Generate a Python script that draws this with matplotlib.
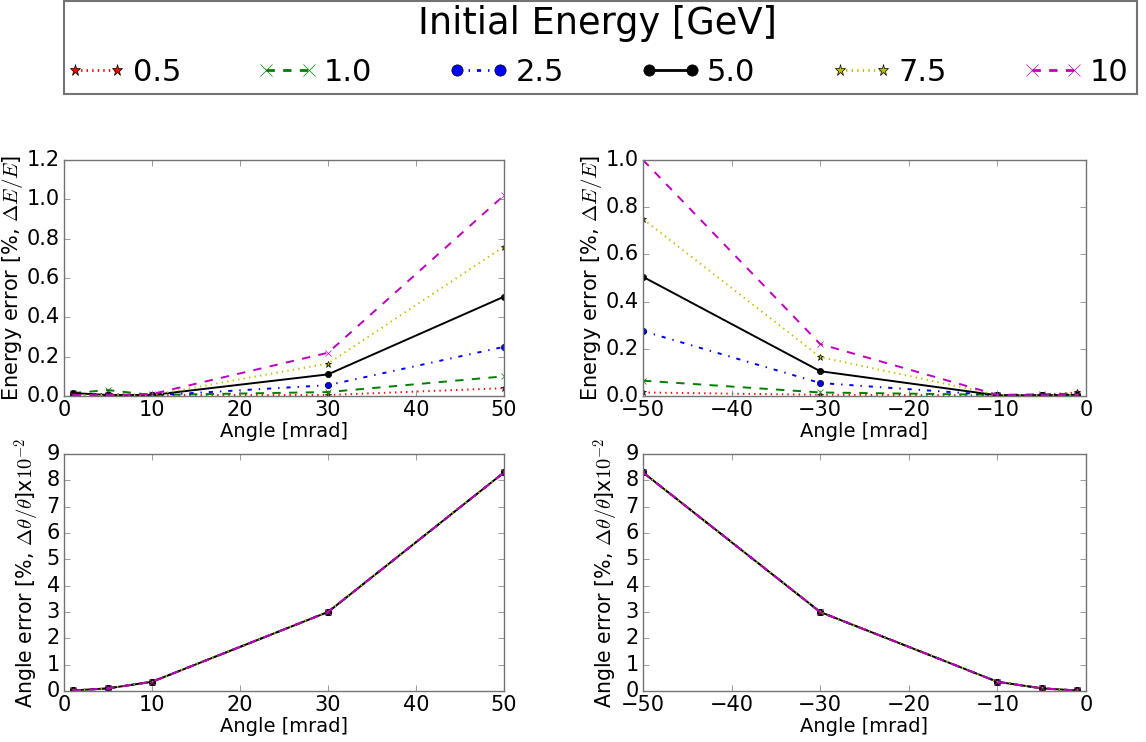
import matplotlib
matplotlib.use("Agg")
import matplotlib.pyplot as plt
from matplotlib.patches import Rectangle
from matplotlib.ticker import FormatStrFormatter

plt.style.use("classic")
plt.rcParams.update({
    "figure.facecolor": "white",
    "savefig.facecolor": "white",
    "font.family": ["DejaVu Sans"],
    "mathtext.fontset": "cm",
    "axes.edgecolor": "0.45",
    "xtick.color": "0.45",
    "ytick.color": "0.45",
    "xtick.labelcolor": "black",
    "ytick.labelcolor": "black",
})

# Beam energies and plotting styles
energies = ["0.5", "1.0", "2.5", "5.0", "7.5", "10"]
fmt_styles = ["r*:", "gx--", "bo-.", "ko-", "y*:", "mx--"]

# Angles (mrad)
angles_pos = [1, 5, 10, 30, 50]
angles_neg = [-50, -30, -10, -5, -1]

# Energy error [%] for positive angles, one list per energy
energy_err_pos = {
    "0.5": [0.010, 0.010, 0.005, 0.005, 0.040],
    "1.0": [0.015, 0.030, 0.005, 0.020, 0.100],
    "2.5": [0.005, 0.005, 0.003, 0.055, 0.250],
    "5.0": [0.015, 0.005, 0.005, 0.110, 0.505],
    "7.5": [0.005, 0.005, 0.005, 0.165, 0.760],
    "10":  [0.005, 0.005, 0.010, 0.220, 1.020],
}

# Energy error [%] for negative angles
energy_err_neg = {
    "0.5": [0.015, 0.005, 0.003, 0.005, 0.015],
    "1.0": [0.065, 0.015, 0.005, 0.007, 0.010],
    "2.5": [0.275, 0.055, 0.003, 0.003, 0.005],
    "5.0": [0.505, 0.105, 0.003, 0.003, 0.005],
    "7.5": [0.750, 0.165, 0.005, 0.003, 0.005],
    "10":  [1.000, 0.220, 0.005, 0.003, 0.005],
}

# Angle error [% x 1e-2]; identical for all energies
angle_err_pos = [0.02, 0.10, 0.35, 3.00, 8.30]
angle_err_neg = [8.30, 3.00, 0.35, 0.10, 0.02]

W, H = 1146, 742
fig = plt.figure(figsize=(W / 100, H / 100), dpi=100)


def fx(px):
    return px / W


def fy(py):
    return 1 - py / H


ax_tl = fig.add_axes([fx(64), fy(396), fx(504 - 64), (396 - 160) / H])
ax_tr = fig.add_axes([fx(643), fy(396), fx(1086 - 643), (396 - 160) / H])
ax_bl = fig.add_axes([fx(64), fy(691), fx(504 - 64), (691 - 454) / H])
ax_br = fig.add_axes([fx(643), fy(691), fx(1086 - 643), (691 - 454) / H])

handles = []
for e, st in zip(energies, fmt_styles):
    kw = dict(markersize=4.5, lw=1.4)
    h, = ax_tl.plot(angles_pos, energy_err_pos[e], st, label=e, **kw)
    handles.append(h)
    ax_tr.plot(angles_neg, energy_err_neg[e], st, **kw)
    ax_bl.plot(angles_pos, angle_err_pos, st, **kw)
    ax_br.plot(angles_neg, angle_err_neg, st, **kw)

ax_tl.set_xlim(0, 50)
ax_tl.set_ylim(0, 1.2)
ax_tl.set_yticks([0.0, 0.2, 0.4, 0.6, 0.8, 1.0, 1.2])
ax_tr.set_xlim(-50, 0)
ax_tr.set_ylim(0, 1.0)
ax_tr.set_yticks([0.0, 0.2, 0.4, 0.6, 0.8, 1.0])
for ax in (ax_bl, ax_br):
    ax.set_ylim(0, 9)
    ax.set_yticks(range(0, 10))
ax_bl.set_xlim(0, 50)
ax_br.set_xlim(-50, 0)

for ax in (ax_tl, ax_tr):
    ax.set_ylabel(r"Energy error [%, $\Delta E/E$]", fontsize=15, labelpad=1)
    ax.yaxis.set_major_formatter(FormatStrFormatter("%.1f"))
for ax in (ax_bl, ax_br):
    ax.set_ylabel(r"Angle error [%, $\Delta\theta/\theta$]x$10^{-2}$", fontsize=14.8, labelpad=3)
for ax in (ax_tl, ax_tr, ax_bl, ax_br):
    ax.set_xlabel("Angle [mrad]", fontsize=14, labelpad=1)
    ax.tick_params(labelsize=15, direction="in", top=True, right=True, pad=3)

# Legend box across the top of the figure
fig.patches.append(Rectangle((fx(64), fy(94)), fx(1137 - 64), (94 - 1) / H,
                             transform=fig.transFigure, fill=False,
                             edgecolor="0.45", linewidth=1.5, zorder=0))

leg = fig.legend(handles, energies, title="Initial Energy [GeV]", ncol=6,
                 loc="upper left", mode="expand",
                 bbox_to_anchor=(fx(64), fy(92), fx(1130 - 64), 89 / H),
                 borderaxespad=0, fontsize=22, title_fontsize=26.5,
                 numpoints=2, markerscale=1.8, handlelength=2.0,
                 handletextpad=0.2, frameon=False, borderpad=0.05,
                 labelspacing=0.53)
for lh in leg.get_lines():
    lh.set_linewidth(2.0)

fig.savefig("out.png", dpi=100)
